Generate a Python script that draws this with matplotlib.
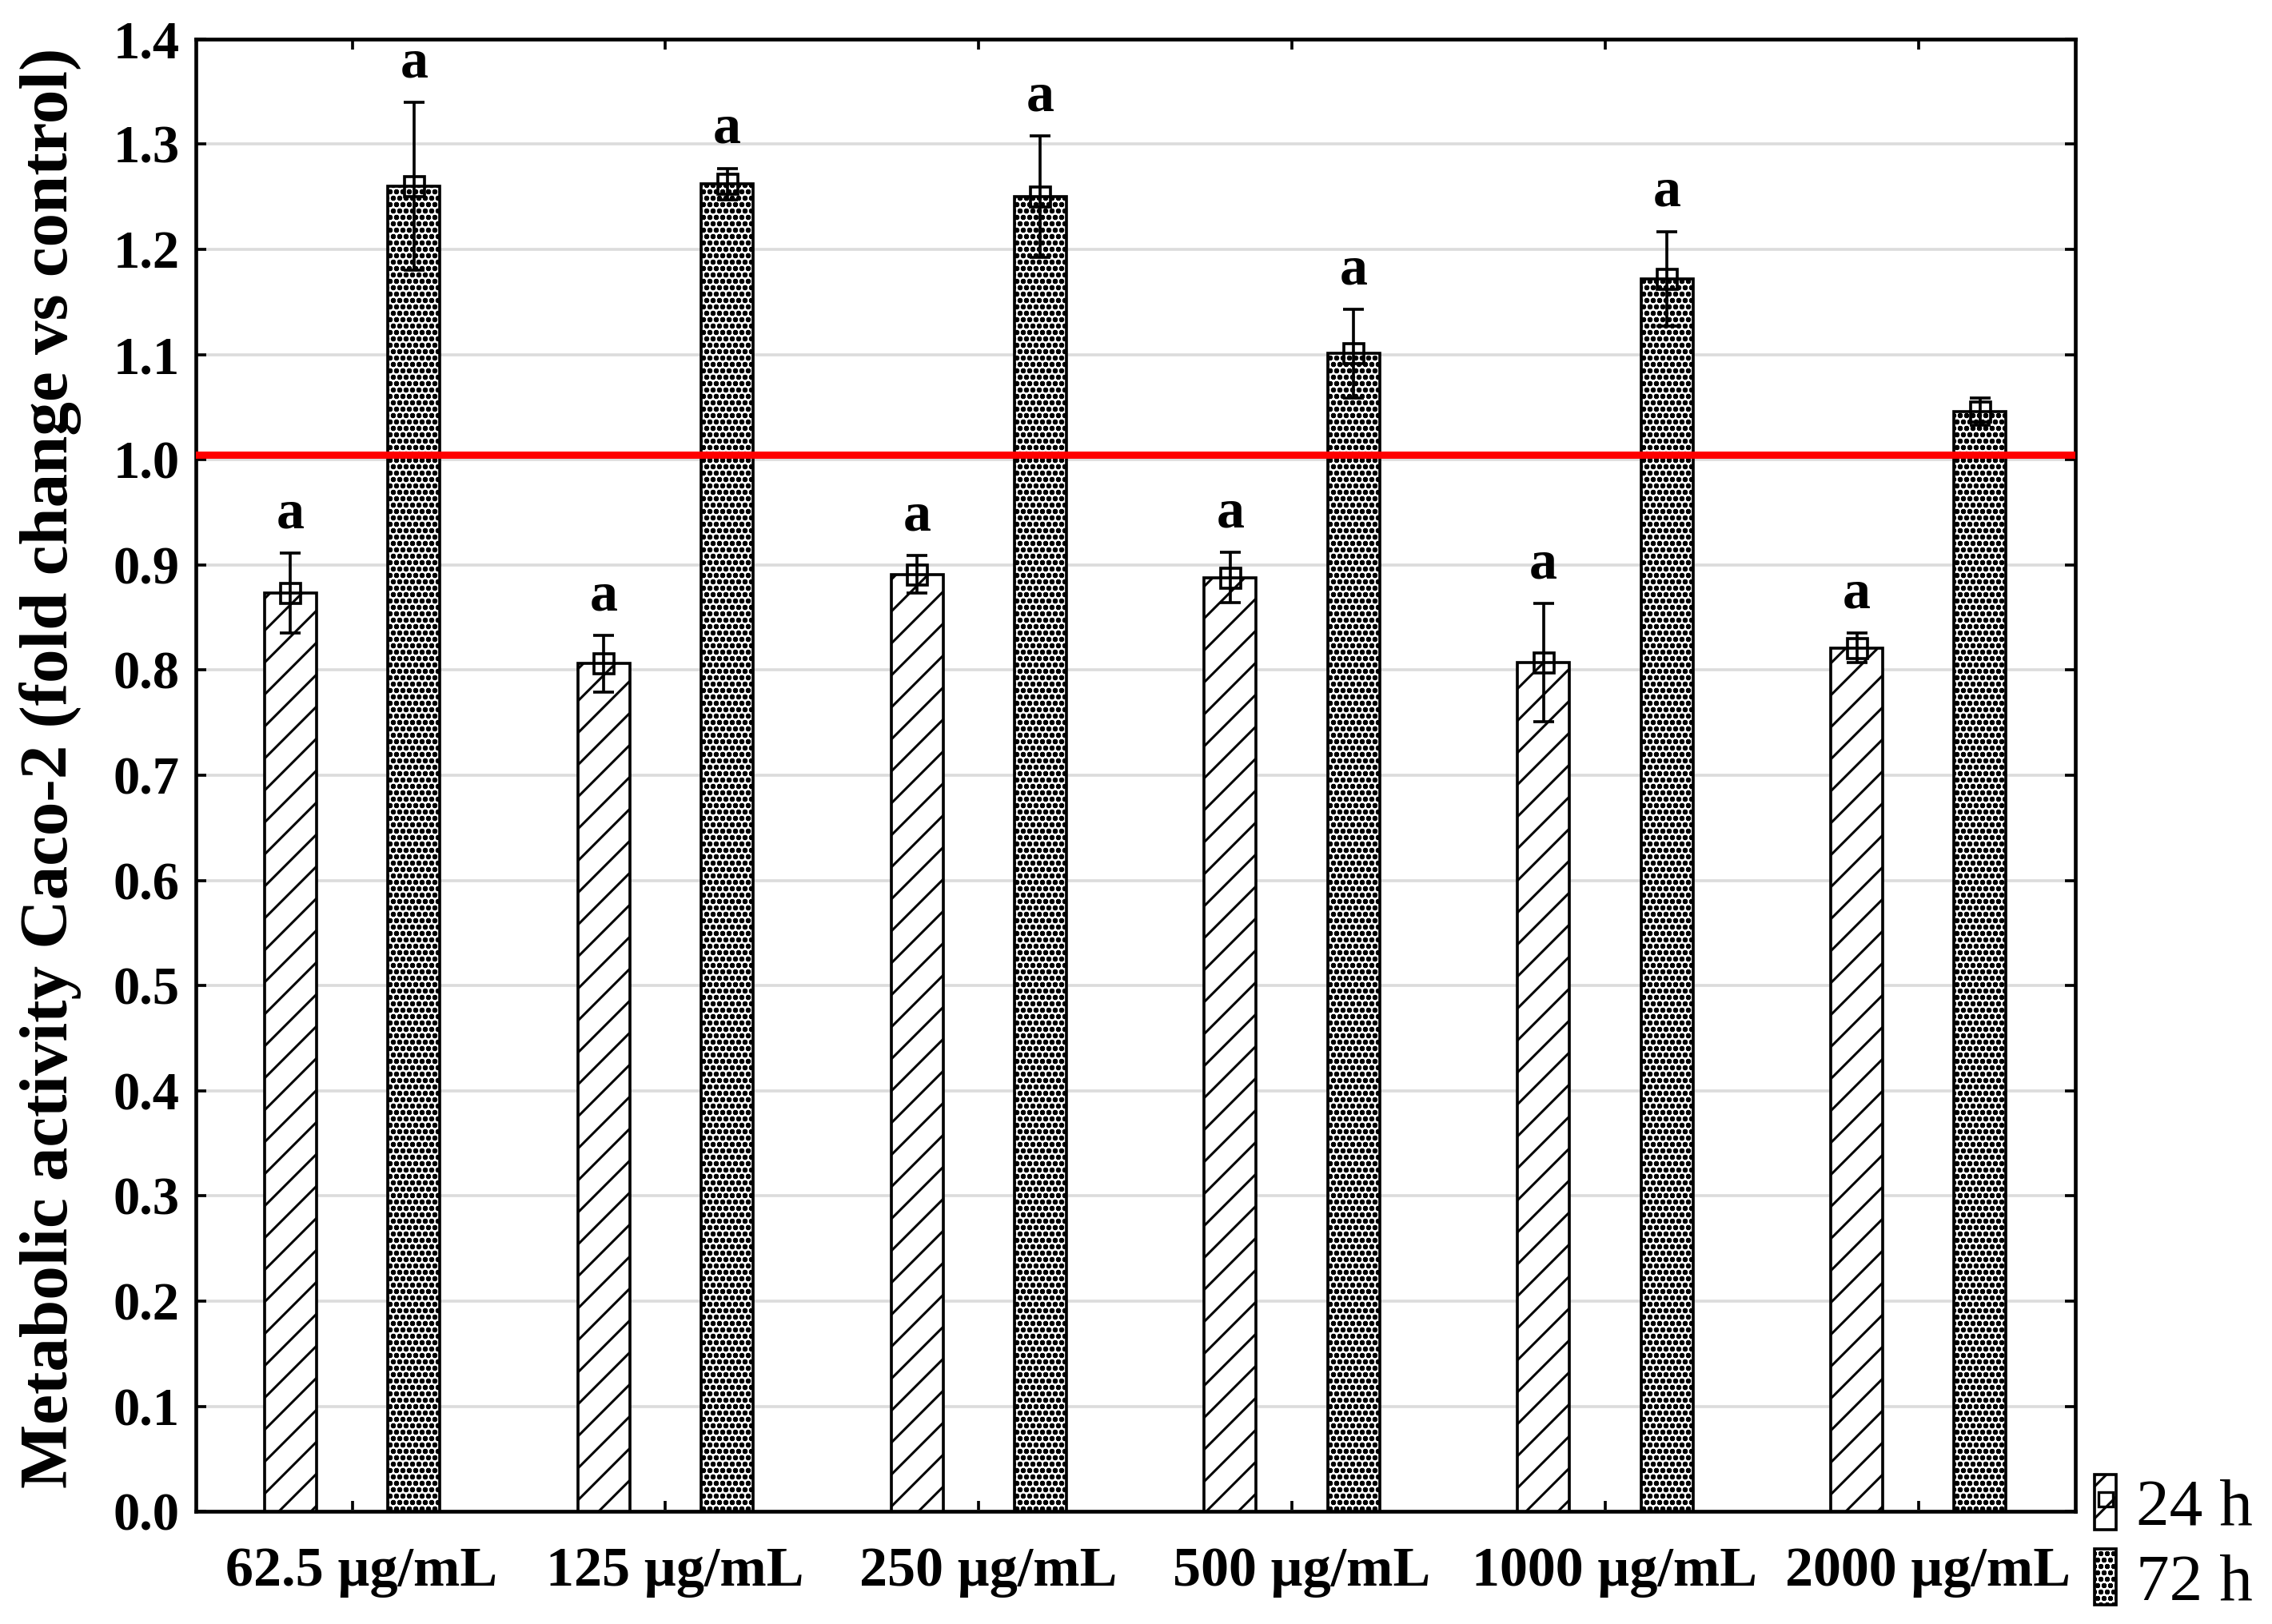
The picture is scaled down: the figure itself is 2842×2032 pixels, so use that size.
import matplotlib
matplotlib.use("Agg")
import matplotlib.pyplot as plt
import matplotlib.transforms as mtransforms
from matplotlib.patches import Patch
from matplotlib.lines import Line2D
import numpy as np

# concentrations and metabolic activity (fold change vs control)
doses = ["62.5 µg/mL", "125 µg/mL", "250 µg/mL", "500 µg/mL", "1000 µg/mL", "2000 µg/mL"]
mean_24h = [0.873, 0.806, 0.891, 0.888, 0.807, 0.821]
err_24h = [0.038, 0.027, 0.018, 0.024, 0.056, 0.014]
mean_72h = [1.260, 1.262, 1.250, 1.101, 1.172, 1.046]
err_72h = [0.080, 0.015, 0.058, 0.042, 0.045, 0.013]
letters_24h = ["a", "a", "a", "a", "a", "a"]
letters_72h = ["a", "a", "a", "a", "a", ""]
control_level = 1.005

plt.rcParams['font.family'] = ['Liberation Serif', 'DejaVu Serif']
plt.rcParams['hatch.linewidth'] = 0.9

fig = plt.figure(figsize=(2842 / 240, 2032 / 240), dpi=240)
ax = fig.add_axes([0.0861, 0.0693, 0.8272, 0.9067])

x = np.arange(1, len(doses) + 1)
off = 0.197
w = 0.166
dots_lw = 0.95

ax.bar(x - off, mean_24h, w, facecolor='white', edgecolor='black', linewidth=1.1, hatch='//', zorder=3)
with plt.rc_context({'hatch.linewidth': dots_lw}):
    ax.bar(x + off, mean_72h, w, facecolor='white', edgecolor='black', linewidth=1.1, hatch='ooooo', zorder=3)

for xs, m, e in [(x - off, mean_24h, err_24h), (x + off, mean_72h, err_72h)]:
    ax.errorbar(xs, m, yerr=e, fmt='s', mfc='none', mec='black', mew=1.1, ms=7.5,
                ecolor='black', elinewidth=1.1, capsize=3.8, capthick=1.1, zorder=4)

for xs, m, e, lab in [(x - off, mean_24h, err_24h, letters_24h), (x + off, mean_72h, err_72h, letters_72h)]:
    for xi, mi, ei, li in zip(xs, m, e, lab):
        if li:
            ax.annotate(li, (xi, mi + ei), xytext=(0, 5), textcoords='offset points',
                        ha='center', va='bottom', fontsize=21, fontweight='bold')

ax.axhline(control_level, color='#ff0000', linewidth=2.7, zorder=5)

ax.set_xlim(0.5, len(doses) + 0.5)
ax.set_ylim(0, 1.4)
ax.set_yticks(np.arange(0, 1.41, 0.1))
ax.set_yticklabels([f"{v:.1f}" for v in np.arange(0, 1.41, 0.1)])
ax.set_xticks(x)
ax.set_xticklabels(doses)
ax.yaxis.grid(True, color='#dcdcdc', linewidth=1.1, zorder=0)
ax.set_axisbelow(True)

ax.tick_params(direction='in', top=True, right=True, length=4, width=1.1,
               labelsize=20)
ax.tick_params(axis='x', pad=13, labelsize=21)
ax.tick_params(axis='y', pad=6)
shift = mtransforms.ScaledTranslation(3.5 / 72, 0, fig.dpi_scale_trans)
for lab in ax.get_xticklabels():
    lab.set_fontweight('bold')
    lab.set_transform(lab.get_transform() + shift)
for lab in ax.get_yticklabels():
    lab.set_fontweight('bold')
for s in ax.spines.values():
    s.set_linewidth(1.4)

fig.text(0.022, 0.527, "Metabolic activity Caco-2 (fold change vs control)", rotation=90,
         ha='center', va='center', fontsize=25.5, fontweight='bold')

h24 = (Patch(facecolor='white', edgecolor='black', hatch='//', linewidth=1.1),
       Line2D([], [], marker='s', mfc='none', mec='black', ms=5.5, mew=1.0, linestyle='none'))
with plt.rc_context({'hatch.linewidth': dots_lw}):
    h72 = Patch(facecolor='white', edgecolor='black', hatch='ooooo', linewidth=1.1)
fig.legend([h24, h72], ["24 h", "72 h"], loc='lower left', bbox_to_anchor=(0.922, 0.006),
           frameon=False, fontsize=25, handlelength=0.32, handleheight=0.9,
           handletextpad=0.3, labelspacing=0.15, borderpad=0, borderaxespad=0)

fig.savefig("out.png", dpi=240)
